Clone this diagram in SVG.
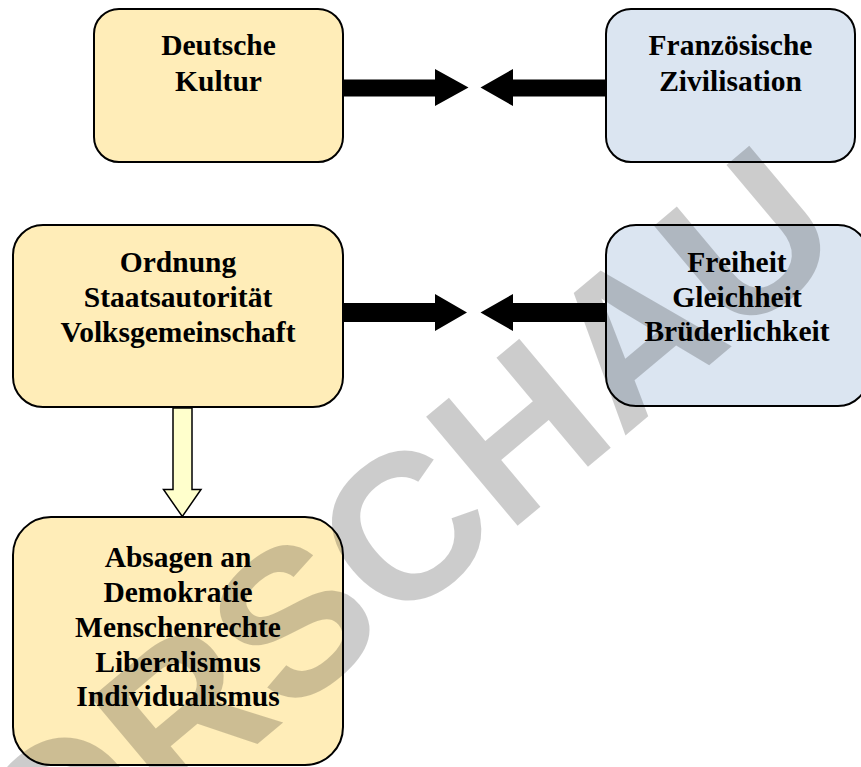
<svg xmlns="http://www.w3.org/2000/svg" width="861" height="767" viewBox="0 0 861 767">
  <style>
    .box { stroke: #000; stroke-width: 2; }
    .de { fill: #FFEDB8; }
    .fr { fill: #DBE5F1; }
    .lbl { font-family: "Liberation Serif", "Times New Roman", serif; font-weight: bold; font-size: 29.5px; fill: #000; text-anchor: middle; }
    .thick { fill: #000; }
    .hollow { fill: #FFFFCC; stroke: #000; stroke-width: 1.5; stroke-linejoin: miter; }
    .mark { font-family: "Liberation Sans", Arial, sans-serif; font-weight: bold; font-size: 207px; fill: #000; fill-opacity: 0.2; }
  </style>
  <rect width="861" height="767" fill="#fff"/>

  <!-- German side -->
  <g id="deutsche-kultur">
    <rect class="box de" x="94" y="9" width="249" height="153" rx="25" ry="25"/>
    <text class="lbl" x="218.5" y="54.5">Deutsche</text>
    <text class="lbl" x="218.5" y="90.5">Kultur</text>
  </g>
  <g id="ordnung">
    <rect class="box de" x="13" y="225" width="330" height="182" rx="30" ry="30"/>
    <text class="lbl" x="178" y="272">Ordnung</text>
    <text class="lbl" x="178" y="307">Staatsautorität</text>
    <text class="lbl" x="178" y="342">Volksgemeinschaft</text>
  </g>
  <g id="absagen">
    <rect class="box de" x="13" y="517" width="330" height="248" rx="38" ry="38"/>
    <text class="lbl" x="178" y="567">Absagen an</text>
    <text class="lbl" x="178" y="602">Demokratie</text>
    <text class="lbl" x="178" y="637">Menschenrechte</text>
    <text class="lbl" x="178" y="672">Liberalismus</text>
    <text class="lbl" x="178" y="706">Individualismus</text>
  </g>

  <!-- French side -->
  <g id="franzoesische-zivilisation">
    <rect class="box fr" x="606" y="9" width="249" height="153" rx="25" ry="25"/>
    <text class="lbl" x="730.5" y="54.5">Französische</text>
    <text class="lbl" x="730.5" y="90.5">Zivilisation</text>
  </g>
  <g id="freiheit">
    <rect class="box fr" x="606" y="225" width="262" height="181" rx="30" ry="30"/>
    <text class="lbl" x="737" y="272">Freiheit</text>
    <text class="lbl" x="737" y="307">Gleichheit</text>
    <text class="lbl" x="737" y="341">Brüderlichkeit</text>
  </g>

  <!-- Connectors -->
  <g id="connectors">
    <polygon class="thick" points="343,79.5 435,79.5 435,69 468.5,87.5 435,106 435,96.5 343,96.5"/>
    <polygon class="thick" points="606,79.5 513,79.5 513,69 480.5,87.5 513,106 513,96.5 606,96.5"/>
    <polygon class="thick" points="343,303 435,303 435,294 467,312.5 435,331 435,322 343,322"/>
    <polygon class="thick" points="606,303 513,303 513,294 480.5,312.5 513,331 513,322 606,322"/>
    <polygon class="hollow" points="173,408 192,408 192,489.5 201,489.5 182.3,516.5 163.5,489.5 173,489.5"/>
  </g>

  <!-- Preview watermark -->
  <text class="mark" x="0" y="0" transform="translate(-57,1008) rotate(-40)">VORSCHAU</text>
</svg>
